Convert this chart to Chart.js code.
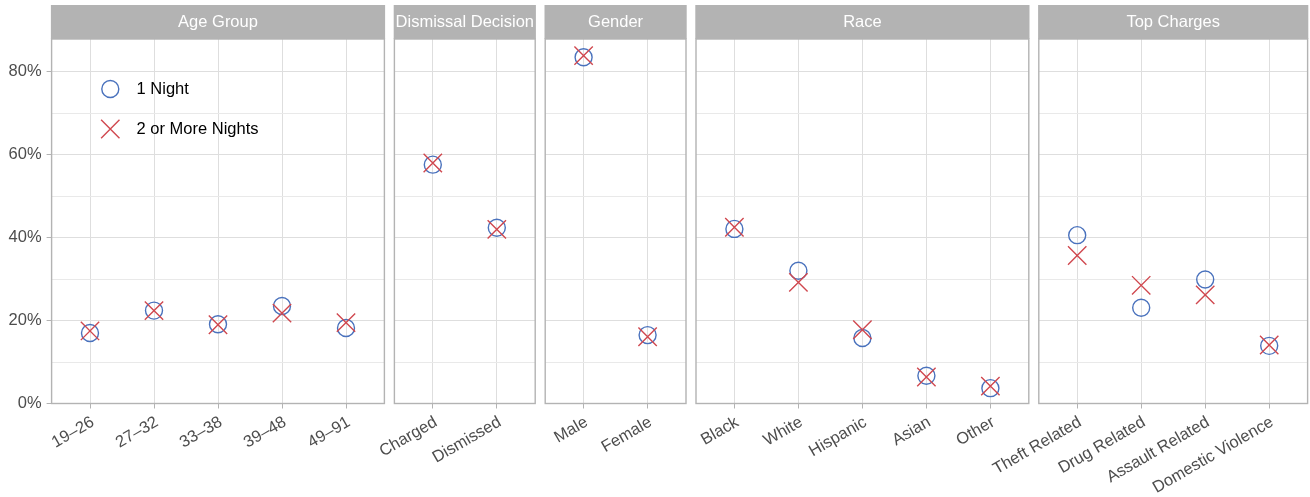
<!DOCTYPE html>
<html>
<head>
<meta charset="utf-8">
<script src="https://cdn.jsdelivr.net/npm/chart.js@4.4.1/dist/chart.umd.min.js"></script>
<style>
  html, body { margin: 0; padding: 0; background: #ffffff; }
  #wrap { position: relative; width: 1310px; height: 497px; overflow: hidden; }
  #wrap canvas { position: absolute; left: 0; top: 0; }
</style>
</head>
<body>
<div id="wrap"></div>
<script>
// ---- data (share of people in each group, %) ----
const seriesNames = ['1 Night', '2 or More Nights'];

const ageLabels = ['19–26', '27–32', '33–38', '39–48', '49–91'];
const ageOneNight = [17.0, 22.4, 19.1, 23.5, 18.2];
const ageMultiNight = [17.5, 22.4, 19.0, 21.8, 19.5];

const dismissalLabels = ['Charged', 'Dismissed'];
const dismissalOneNight = [57.6, 42.4];
const dismissalMultiNight = [58.0, 42.0];

const genderLabels = ['Male', 'Female'];
const genderOneNight = [83.5, 16.5];
const genderMultiNight = [83.9, 16.1];

const raceLabels = ['Black', 'White', 'Hispanic', 'Asian', 'Other'];
const raceOneNight = [42.1, 32.0, 15.8, 6.7, 3.7];
const raceMultiNight = [42.5, 29.2, 17.8, 6.4, 4.2];

const chargeLabels = ['Theft Related', 'Drug Related', 'Assault Related', 'Domestic Violence'];
const chargeOneNight = [40.6, 23.1, 29.9, 13.9];
const chargeMultiNight = [35.7, 28.5, 26.2, 14.1];

const yTickValues = [0, 20, 40, 60, 80];
const yTickLabels = ['0%', '20%', '40%', '60%', '80%'];
const yMinorValues = [10, 30, 50, 70];

const facets = [
  { title: 'Age Group', labels: ageLabels, one: ageOneNight, multi: ageMultiNight },
  { title: 'Dismissal Decision', labels: dismissalLabels, one: dismissalOneNight, multi: dismissalMultiNight },
  { title: 'Gender', labels: genderLabels, one: genderOneNight, multi: genderMultiNight },
  { title: 'Race', labels: raceLabels, one: raceOneNight, multi: raceMultiNight },
  { title: 'Top Charges', labels: chargeLabels, one: chargeOneNight, multi: chargeMultiNight }
];

// ---- layout and style ----
const W = 1310, H = 497, CANVAS_W = 1410;
const STRIP_TOP = 5, PANEL_TOP = 39, PANEL_BOTTOM = 403.5;
const FIRST_LEFT = 51.6, CAT_STEP = 64, CAT_PAD = 0.6, GAP = 10;
const Y_MAX = 87.9;
const BLUE = '#4a72bd', RED = '#d0484f';
const FRAME = '#b3b3b3', GRID_MAJOR = '#dedede', GRID_MINOR = '#e9e9e9';
const TEXT = '#4d4d4d';
const FONT = '"Liberation Sans", Arial, Helvetica, sans-serif';
const FONT_SIZE = 16.5;
const CIRCLE_R = 8.5, CROSS_R = 13, MARK_W = 1.4;

Chart.defaults.font.family = FONT;
Chart.defaults.font.size = FONT_SIZE;

function drawMarker(ctx, style, x, y) {
  ctx.save();
  ctx.lineWidth = MARK_W;
  ctx.beginPath();
  if (style === 'circle') {
    ctx.strokeStyle = BLUE;
    ctx.arc(x, y, CIRCLE_R, 0, Math.PI * 2);
  } else {
    ctx.strokeStyle = RED;
    const d = CROSS_R * Math.SQRT1_2;
    ctx.moveTo(x - d, y - d); ctx.lineTo(x + d, y + d);
    ctx.moveTo(x - d, y + d); ctx.lineTo(x + d, y - d);
  }
  ctx.stroke();
  ctx.restore();
}

// grey frame round the panel
const panelFrame = {
  id: 'panelFrame',
  afterDatasetsDraw(chart) {
    const a = chart.chartArea, ctx = chart.ctx;
    ctx.save();
    ctx.strokeStyle = FRAME;
    ctx.lineWidth = 1.4;
    ctx.strokeRect(a.left, a.top, a.right - a.left, a.bottom - a.top);
    ctx.restore();
  }
};

// facet title strip above the panel
const facetStrip = {
  id: 'facetStrip',
  afterDraw(chart, args, opts) {
    const a = chart.chartArea, ctx = chart.ctx;
    const x0 = a.left - 0.7, w = a.right - a.left + 1.4;
    ctx.save();
    ctx.fillStyle = FRAME;
    ctx.fillRect(x0, STRIP_TOP, w, PANEL_TOP - STRIP_TOP);
    ctx.beginPath();
    ctx.rect(x0, STRIP_TOP, w, PANEL_TOP - STRIP_TOP);
    ctx.clip();
    ctx.fillStyle = '#ffffff';
    ctx.font = FONT_SIZE + 'px ' + FONT;
    ctx.textAlign = 'center';
    ctx.textBaseline = 'middle';
    ctx.fillText(opts.text, (a.left + a.right) / 2, (STRIP_TOP + PANEL_TOP) / 2 + 0.5);
    ctx.restore();
  }
};

// series key inside the first panel
const seriesKey = {
  id: 'seriesKey',
  afterDatasetsDraw(chart) {
    const ctx = chart.ctx;
    const a = chart.chartArea;
    const mx = a.left + 58.7, tx = a.left + 85;
    const rows = [
      { style: 'circle', name: seriesNames[0], y: 89 },
      { style: 'crossRot', name: seriesNames[1], y: 129 }
    ];
    rows.forEach(r => {
      drawMarker(ctx, r.style, mx, r.y);
      ctx.save();
      ctx.fillStyle = '#000000';
      ctx.font = FONT_SIZE + 'px ' + FONT;
      ctx.textAlign = 'left';
      ctx.textBaseline = 'middle';
      ctx.fillText(r.name, tx, r.y);
      ctx.restore();
    });
  }
};

const wrap = document.getElementById('wrap');
let left = FIRST_LEFT;

facets.forEach((f, idx) => {
  const n = f.labels.length;
  const width = (n - 1 + 2 * CAT_PAD) * CAT_STEP;
  const L = left, R = left + width;
  left = R + GAP;
  const first = idx === 0;

  const canvas = document.createElement('canvas');
  canvas.width = CANVAS_W; canvas.height = H;
  canvas.style.width = CANVAS_W + 'px'; canvas.style.height = H + 'px';
  wrap.appendChild(canvas);

  const plugins = [panelFrame, facetStrip];
  if (first) plugins.push(seriesKey);

  new Chart(canvas, {
    type: 'scatter',
    data: {
      datasets: [
        {
          label: seriesNames[1],
          data: f.multi.map((v, i) => ({ x: i, y: v })),
          pointStyle: 'crossRot',
          pointRadius: CROSS_R,
          borderColor: RED,
          backgroundColor: 'rgba(0,0,0,0)',
          borderWidth: MARK_W,
          order: 1
        },
        {
          label: seriesNames[0],
          data: f.one.map((v, i) => ({ x: i, y: v })),
          pointStyle: 'circle',
          pointRadius: CIRCLE_R,
          borderColor: BLUE,
          backgroundColor: 'rgba(0,0,0,0)',
          borderWidth: MARK_W,
          order: 2
        }
      ]
    },
    options: {
      responsive: false,
      animation: false,
      events: [],
      layout: { padding: { left: first ? 0 : L, right: CANVAS_W - R, top: PANEL_TOP, bottom: 0 } },
      plugins: {
        legend: { display: false },
        tooltip: { enabled: false },
        facetStrip: { text: f.title }
      },
      scales: {
        x: {
          type: 'linear',
          min: -CAT_PAD,
          max: n - 1 + CAT_PAD,
          afterBuildTicks: s => { s.ticks = f.labels.map((_, i) => ({ value: i })); },
          afterFit: s => { s.height = H - PANEL_BOTTOM; },
          ticks: {
            autoSkip: false,
            minRotation: 30,
            maxRotation: 30,
            padding: 4,
            labelOffset: 3,
            color: TEXT,
            font: { size: FONT_SIZE },
            callback: v => f.labels[v]
          },
          grid: { color: GRID_MAJOR, lineWidth: 1, tickColor: FRAME, tickLength: 5 },
          border: { display: false }
        },
        y: {
          min: 0,
          max: Y_MAX,
          afterBuildTicks: s => {
            s.ticks = yTickValues.concat(yMinorValues).sort((a, b) => a - b).map(v => ({ value: v }));
          },
          afterFit: s => { s.width = first ? L : 0; },
          ticks: {
            display: first,
            padding: 5,
            color: TEXT,
            font: { size: FONT_SIZE },
            callback: v => {
              const k = yTickValues.indexOf(v);
              return k >= 0 ? yTickLabels[k] : '';
            }
          },
          grid: {
            color: c => (c.tick && yTickValues.includes(c.tick.value)) ? GRID_MAJOR : GRID_MINOR,
            lineWidth: 1,
            drawTicks: first,
            tickLength: 5,
            tickColor: c => (c.tick && yTickValues.includes(c.tick.value)) ? FRAME : 'rgba(0,0,0,0)'
          },
          border: { display: false }
        }
      }
    },
    plugins: plugins
  });
});
</script>
</body>
</html>
